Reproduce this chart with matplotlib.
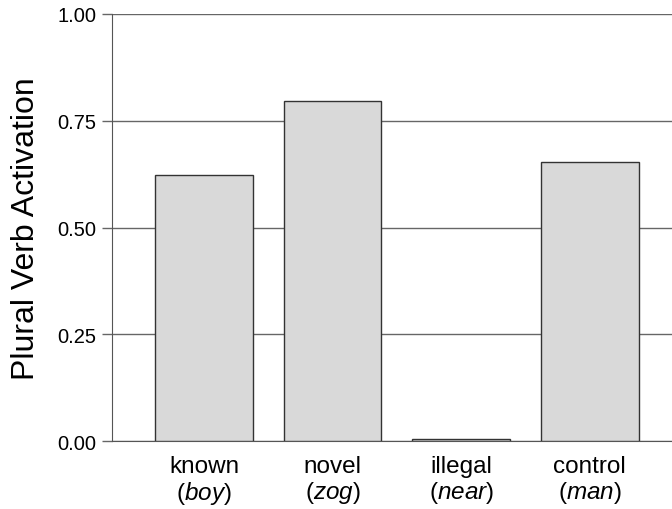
import matplotlib.pyplot as plt
import numpy as np

conditions = ['known', 'novel', 'illegal', 'control']
examples = ['boy', 'zog', 'near', 'man']
activation = [0.623, 0.797, 0.004, 0.654]
yticks = [0.0, 0.25, 0.50, 0.75, 1.00]

plt.rcParams['font.family'] = ['Liberation Sans', 'DejaVu Sans']
plt.rcParams['mathtext.fontset'] = 'custom'
plt.rcParams['mathtext.rm'] = 'Liberation Sans'
plt.rcParams['mathtext.it'] = 'Liberation Sans:italic'

fig = plt.figure(figsize=(6.72, 5.10), dpi=100)
ax = fig.add_axes([112 / 672, 1 - 442 / 510, 1 - 112 / 672, 427 / 510])

x = np.arange(len(conditions))
ax.bar(x, activation, width=0.76, color='#d9d9d9', edgecolor='#333333', linewidth=1.0, zorder=3)

ax.set_ylim(0, 1.0)
ax.set_xlim(-0.716, 3.64)
ax.set_yticks(yticks)
ax.set_yticklabels([f'{t:.2f}' for t in yticks], fontsize=14.5)
ax.yaxis.grid(True, color='#666666', linewidth=1.0, zorder=0)

# category name on top, example word in italics underneath
labels = [f'{c}\n($\\mathit{{{e}}}$)' for c, e in zip(conditions, examples)]
ax.set_xticks(x)
ax.set_xticklabels(labels, fontsize=17.5, linespacing=1.1)
ax.tick_params(axis='x', length=0, pad=10)
ax.tick_params(axis='y', length=7, width=1, color='#666666', pad=4)

for side in ['top', 'right']:
    ax.spines[side].set_visible(False)
ax.spines['left'].set_color('#555555')
ax.spines['bottom'].set_color('#555555')

ax.set_ylabel('Plural Verb Activation', fontsize=23, labelpad=12)

plt.savefig('out.png', dpi=100)
